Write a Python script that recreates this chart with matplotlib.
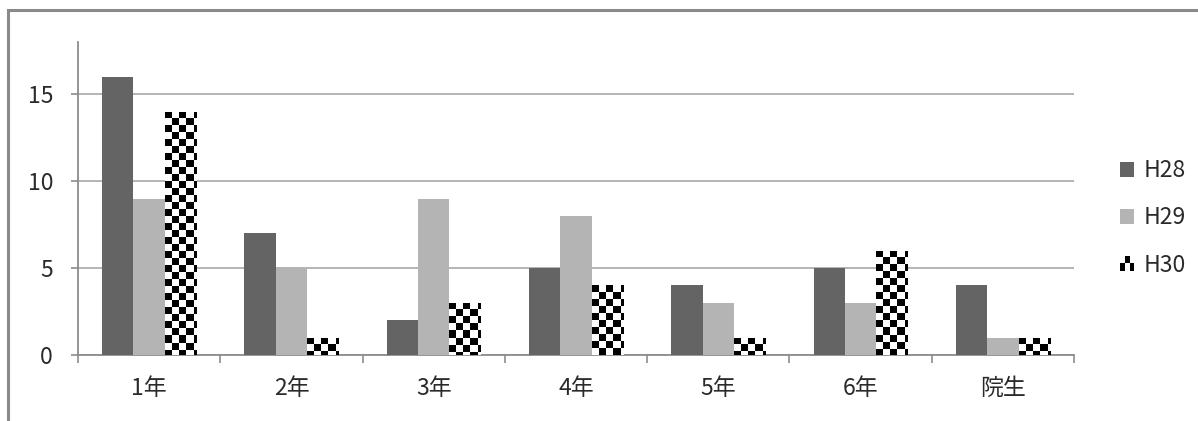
import numpy as np
import matplotlib
matplotlib.use('Agg')
import matplotlib.pyplot as plt
from matplotlib.patches import Rectangle, Patch
from matplotlib.legend_handler import HandlerBase
from matplotlib.ticker import FixedLocator, NullFormatter

categories = ['1年', '2年', '3年', '4年', '5年', '6年', '院生']
h28 = [16, 7, 2, 5, 4, 5, 4]
h29 = [9, 5, 9, 8, 3, 3, 1]
h30 = [14, 1, 3, 4, 1, 6, 1]
series_names = ['H28', 'H29', 'H30']
yticks = [0, 5, 10, 15]

plt.rcParams['font.family'] = ['Noto Sans CJK JP', 'DejaVu Sans']
TXT = '#2a2a2a'
FS = 16.5

W, H = 1198, 421
fig = plt.figure(figsize=(W / 100, H / 100), dpi=100)
ax_l, ax_b, ax_w, ax_h = 78, 66, 996, 313
ax = fig.add_axes([ax_l / W, ax_b / H, ax_w / W, ax_h / H])

x = np.arange(len(categories))
bw = 0.22
b1 = ax.bar(x - bw, h28, bw, color='#646464', zorder=3, label=series_names[0])
b2 = ax.bar(x, h29, bw, color='#b4b4b4', zorder=3, label=series_names[1])
b3 = ax.bar(x + bw, h30, bw, color='white', zorder=3, label=series_names[2])

xlim = (-0.5, len(categories) - 0.5)
ylim = (0, 18)
ax.set_xlim(*xlim)
ax.set_ylim(*ylim)

# checkerboard fill for H30 bars
sq = 7.0  # px
dx = sq / (ax_w / (xlim[1] - xlim[0]))
dy = sq / (ax_h / (ylim[1] - ylim[0]))
for bar in b3:
    x0, w, hgt = bar.get_x(), bar.get_width(), bar.get_height()
    nc = int(np.ceil(w / dx))
    nr = int(np.ceil(hgt / dy))
    ii, jj = np.indices((nr, nc))
    arr = ((ii + jj) % 2).astype(float)
    top = hgt
    im = ax.imshow(arr, cmap='gray', vmin=0, vmax=1, interpolation='nearest',
                   extent=(x0, x0 + nc * dx, top - nr * dy, top), origin='upper',
                   aspect='auto', zorder=3.5)
    im.set_clip_path(bar)
ax.set_xlim(*xlim)
ax.set_ylim(*ylim)

# axes styling
for s in ['top', 'right']:
    ax.spines[s].set_visible(False)
for s in ['left', 'bottom']:
    ax.spines[s].set_color('#8c8c8c')
    ax.spines[s].set_linewidth(1.3)
ax.set_axisbelow(True)
ax.yaxis.grid(True, color='#a8a8a8', linewidth=1.2)
ax.set_yticks(yticks)
ax.tick_params(axis='y', length=5, width=1.2, color='#8c8c8c', pad=13,
               labelsize=FS, labelcolor=TXT)

ax.xaxis.set_major_locator(FixedLocator(np.arange(len(categories) + 1) - 0.5))
ax.xaxis.set_major_formatter(NullFormatter())
ax.set_xticks(x, minor=True)
ax.set_xticklabels(categories, minor=True)
ax.tick_params(axis='x', which='major', length=6, width=1.2, color='#8c8c8c')
ax.tick_params(axis='x', which='minor', length=0, pad=16, labelsize=FS,
               labelcolor=TXT)


class CheckerHandler(HandlerBase):
    def create_artists(self, legend, orig_handle, xdescent, ydescent,
                       width, height, fontsize, trans):
        arts = []
        pattern = [[1, 0, 1], [0, 1, 0]]
        cw = width / 3.0
        ch = height / 2.0
        for r, row in enumerate(pattern):
            for c, v in enumerate(row):
                if v:
                    arts.append(Rectangle((-xdescent + c * cw, -ydescent + r * ch),
                                          cw, ch, facecolor='black',
                                          edgecolor='none', transform=trans))
        return arts


h_a = Patch(facecolor='#646464')
h_b = Patch(facecolor='#b4b4b4')
h_c = Patch(facecolor='white')
leg = fig.legend([h_a, h_b, h_c], series_names, loc='center left',
                 bbox_to_anchor=(1109 / W, 1 - 218 / H), frameon=False,
                 fontsize=FS, labelcolor=TXT, handlelength=0.6,
                 handleheight=0.6, handletextpad=0.4, labelspacing=1.05,
                 borderpad=0, handler_map={h_c: CheckerHandler()})

# outer frame (left and top edges visible)
fig.add_artist(Rectangle((8 / W, -0.1), 1.2, 1 - 10 / H + 0.1,
                         transform=fig.transFigure, fill=False,
                         edgecolor='#8a8a8a', linewidth=2.2))

fig.savefig('out.png', dpi=100)
